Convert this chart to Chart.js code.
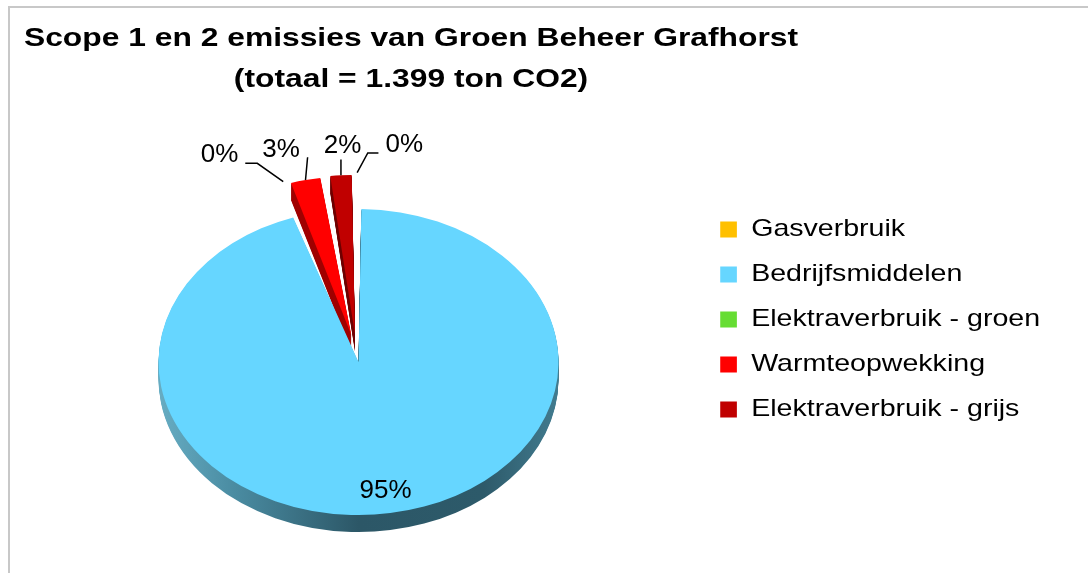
<!DOCTYPE html>
<html>
<head>
<meta charset="utf-8">
<title>Scope 1 en 2 emissies</title>
<script src="https://cdn.jsdelivr.net/npm/chart.js@4"></script>
<style>
  html, body { margin: 0; padding: 0; background: #fff; overflow: hidden; }
  #frame { position: absolute; left: 8px; top: 6px; width: 1200px; height: 700px;
           border-left: 2px solid #c8c8c8; border-top: 2px solid #c8c8c8; }
  #myChart { position: absolute; left: 0; top: 0; }
</style>
</head>
<body>
<div id="frame"></div>
<canvas id="myChart" width="1088" height="573"></canvas>
<script>
// data (ton CO2, totaal 1.399)
const categories = ['Gasverbruik', 'Bedrijfsmiddelen', 'Elektraverbruik - groen', 'Warmteopwekking', 'Elektraverbruik - grijs'];
const emissions = [1, 1326, 3, 39, 30];
const titleLines = ['Scope 1 en 2 emissies van Groen Beheer Grafhorst', '(totaal = 1.399 ton CO2)'];

const sliceColors = ['#ffc000', '#66d6ff', '#66dd33', '#ff0000', '#c00000'];
const rimColors = ['#a07c00', 'blue-rim', '#3f8f20', '#a00000', '#700000'];
const FONT = '"Liberation Sans", Arial, sans-serif';

// map a point of the flat pie onto the tilted one
function tiltY(chart, y) {
  const o = chart.options.plugins.tilt;
  const cy = chart.getDatasetMeta(0).data[0].y;
  return cy + o.shiftY + (y - cy) * o.ratio;
}

// the legend text in the original is rendered a bit wide
const legendStretch = {
  id: 'legendStretch',
  beforeDraw(chart, args, opts) {
    const ctx = chart.ctx, lg = chart.legend;
    ctx.save();
    ctx.translate(lg.left, 0);
    ctx.scale(opts.scaleX, 1);
    ctx.translate(-lg.left, 0);
  },
  beforeDatasetsDraw(chart) {
    chart.ctx.restore();
  }
};

// squash the pie and give it a rim
const tilt = {
  id: 'tilt',
  beforeDatasetsDraw(chart, args, opts) {
    const ctx = chart.ctx;
    const arcs = chart.getDatasetMeta(0).data;
    const cx = arcs[0].x, cy = arcs[0].y, r = arcs[0].outerRadius;
    ctx.save();
    ctx.translate(cx, cy + opts.shiftY);
    ctx.scale(1, opts.ratio);
    ctx.translate(-cx, -cy);

    const grad = ctx.createLinearGradient(cx - r - 20, 0, cx + r + 20, 0);
    grad.addColorStop(0, '#6ab0c6');
    grad.addColorStop(0.2, '#4a8ca2');
    grad.addColorStop(0.5, '#2c5767');
    grad.addColorStop(0.8, '#2d5a6a');
    grad.addColorStop(1, '#447f93');

    for (let d = opts.depth; d > 0; d--) {
      ctx.save();
      ctx.translate(0, d / opts.ratio);
      arcs.forEach((arc, i) => {
        const o = arc.options;
        const c = rimColors[i] === 'blue-rim' ? grad : rimColors[i];
        arc.options = Object.assign({}, o, {backgroundColor: c, borderColor: c});
        arc.draw(ctx);
        arc.options = o;
      });
      ctx.restore();
    }
  },
  afterDatasetsDraw(chart) {
    chart.ctx.restore();
  }
};

const pctLabels = {
  id: 'pctLabels',
  afterDraw(chart, args, opts) {
    const ctx = chart.ctx;
    const arcs = chart.getDatasetMeta(0).data;
    const values = chart.data.datasets[0].data;
    const total = values.reduce((a, b) => a + b, 0);

    ctx.save();
    ctx.font = opts.size + 'px ' + FONT;
    ctx.fillStyle = '#000';
    ctx.strokeStyle = '#000';
    ctx.lineWidth = 1.5;
    ctx.textAlign = 'center';
    ctx.textBaseline = 'middle';

    const items = arcs.map((arc, i) => {
      const mid = (arc.startAngle + arc.endAngle) / 2;
      const circ = arc.endAngle - arc.startAngle;
      const t = (arc.options.offset || 0) / 4;
      const reach = t + arc.outerRadius + t * (1 - Math.sin(Math.min(Math.PI, circ)));
      const text = Math.round(values[i] / total * 100) + '%';
      return {arc, mid, reach, share: values[i] / total, text, w: ctx.measureText(text).width,
              x: arc.x + Math.cos(mid) * (arc.outerRadius + opts.extraX),
              y: tiltY(chart, arc.y + Math.sin(mid) * (arc.outerRadius + opts.extraY))};
    });

    // small slices get their label outside; push overlapping ones apart sideways
    const outside = items.filter(it => it.share < 0.1).sort((a, b) => a.x - b.x);
    for (let n = 0; n < 200; n++) {
      for (let j = 1; j < outside.length; j++) {
        const p = outside[j - 1], q = outside[j];
        const need = (p.w + q.w) / 2 + opts.pad;
        if (Math.abs(q.y - p.y) < opts.size && q.x - p.x < need) {
          const push = (need - (q.x - p.x)) / 2;
          q.x += push;
          p.x -= push;
        }
      }
    }

    items.forEach(it => {
      const arc = it.arc;
      if (it.share >= 0.1) {
        const d = it.reach * 0.86;
        ctx.fillText(it.text, arc.x + Math.cos(it.mid) * d, tiltY(chart, arc.y + Math.sin(it.mid) * d));
        return;
      }
      const lx = it.x, ly = it.y, w = it.w;
      ctx.fillText(it.text, lx, ly);

      const ax = arc.x + Math.cos(it.mid) * it.reach;
      const ay = tiltY(chart, arc.y + Math.sin(it.mid) * it.reach);
      const bx = Math.max(lx - w / 2 - ax, 0, ax - lx - w / 2);
      const by = Math.max(ly - 13 - ay, 0, ay - ly - 13);
      if (Math.hypot(bx, by) < 8) return;
      ctx.beginPath();
      if (ax >= lx - w / 2 && ax <= lx + w / 2) {
        ctx.moveTo(ax, ly + 14);
      } else {
        const side = ax > lx ? 1 : -1;
        const sx = lx + side * (w / 2 + 7);
        const sy = ly + 8;
        ctx.moveTo(sx, sy);
        ctx.lineTo(sx + side * Math.min(12, Math.abs(ax - sx) / 2), sy);
      }
      ctx.lineTo(ax, ay);
      ctx.stroke();
    });
    ctx.restore();
  }
};

const chartTitle = {
  id: 'chartTitle',
  afterDraw(chart, args, opts) {
    const ctx = chart.ctx;
    ctx.save();
    ctx.font = 'bold ' + opts.size + 'px ' + FONT;
    ctx.fillStyle = '#000';
    ctx.textAlign = 'center';
    ctx.textBaseline = 'alphabetic';
    titleLines.forEach((line, i) => {
      ctx.save();
      ctx.translate(opts.x, opts.y + i * opts.lineHeight);
      ctx.scale(opts.scaleX, 1);
      ctx.fillText(line, 0, 0);
      ctx.restore();
    });
    ctx.restore();
  }
};

const ctx = document.getElementById('myChart');
const myChart = new Chart(ctx, {
  type: 'pie',
  data: {
    labels: categories,
    datasets: [{
      data: emissions,
      backgroundColor: sliceColors,
      borderWidth: 0,
      offset: [96, 48, 96, 96, 96],
      radius: 188,
      clip: false
    }]
  },
  options: {
    responsive: false,
    animation: false,
    devicePixelRatio: 1,
    layout: {
      padding: {top: 90, bottom: 24, left: 18, right: 93}
    },
    plugins: {
      tooltip: {enabled: false},
      legend: {
        position: 'right',
        align: 'center',
        labels: {
          boxWidth: 14,
          boxHeight: 16,
          padding: 21,
          color: '#000',
          font: {family: FONT, size: 24}
        }
      },
      legendStretch: {scaleX: 1.19},
      tilt: {ratio: 0.765, depth: 17, shiftY: 33.5},
      pctLabels: {size: 26, extraX: 112, extraY: 84, pad: 24},
      chartTitle: {x: 411, y: 46, lineHeight: 41, size: 26.5, scaleX: 1.2}
    }
  },
  plugins: [legendStretch, tilt, pctLabels, chartTitle]
});
</script>
</body>
</html>
